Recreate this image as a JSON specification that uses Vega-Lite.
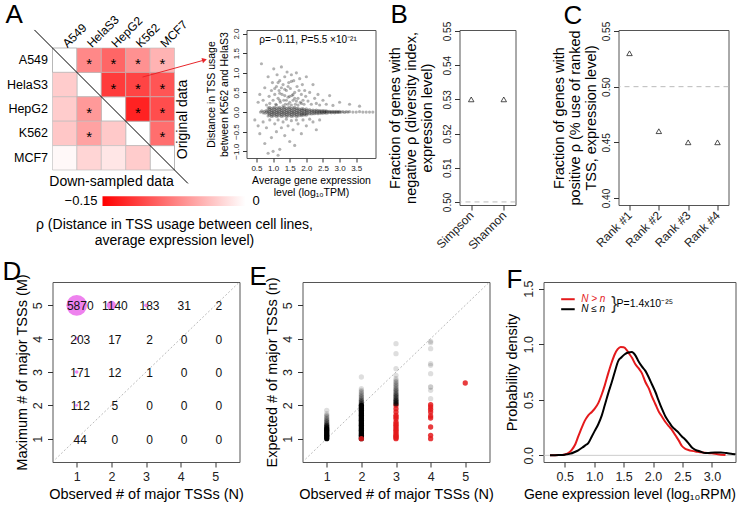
{
"$schema":"https://vega.github.io/schema/vega-lite/v6.json",
"padding":{"left":1.5,"top":1,"right":0,"bottom":0},
"config":{
 "font":"Liberation Sans",
 "view":{"stroke":"#555","strokeWidth":1},
 "axis":{"grid":false,"domain":false,"tickColor":"#333","tickSize":5,"labelColor":"#222","titleColor":"#000","titleFontWeight":"normal","titleFontSize":14.5,"labelFontSize":12,"labelOverlap":false},
 "title":{"fontSize":26,"fontWeight":"normal","anchor":"start","frame":"group","baseline":"top","offset":0,"color":"#000"}
},
"spacing":6,
"datasets":{
 "heat":[
  {"row":"A549","col":"A549","rho":null,"star":""},
  {"row":"A549","col":"HelaS3","rho":-0.07,"star":"*"},
  {"row":"A549","col":"HepG2","rho":-0.09,"star":"*"},
  {"row":"A549","col":"K562","rho":-0.065,"star":"*"},
  {"row":"A549","col":"MCF7","rho":-0.045,"star":"*"},
  {"row":"HelaS3","col":"A549","rho":-0.03,"star":""},
  {"row":"HelaS3","col":"HelaS3","rho":null,"star":""},
  {"row":"HelaS3","col":"HepG2","rho":-0.115,"star":"*"},
  {"row":"HelaS3","col":"K562","rho":-0.11,"star":"*"},
  {"row":"HelaS3","col":"MCF7","rho":-0.1,"star":"*"},
  {"row":"HepG2","col":"A549","rho":-0.03,"star":""},
  {"row":"HepG2","col":"HelaS3","rho":-0.06,"star":"*"},
  {"row":"HepG2","col":"HepG2","rho":null,"star":""},
  {"row":"HepG2","col":"K562","rho":-0.13,"star":"*"},
  {"row":"HepG2","col":"MCF7","rho":-0.105,"star":"*"},
  {"row":"K562","col":"A549","rho":-0.033,"star":""},
  {"row":"K562","col":"HelaS3","rho":-0.055,"star":"*"},
  {"row":"K562","col":"HepG2","rho":-0.032,"star":""},
  {"row":"K562","col":"K562","rho":null,"star":""},
  {"row":"K562","col":"MCF7","rho":-0.085,"star":"*"},
  {"row":"MCF7","col":"A549","rho":-0.004,"star":""},
  {"row":"MCF7","col":"HelaS3","rho":-0.025,"star":""},
  {"row":"MCF7","col":"HepG2","rho":-0.015,"star":""},
  {"row":"MCF7","col":"K562","rho":-0.03,"star":""},
  {"row":"MCF7","col":"MCF7","rho":null,"star":""}
 ],
 "scatterA":[
  {"expr":0.62,"dist":0},{"expr":0.66,"dist":0.03},{"expr":0.7,"dist":-0.02},{"expr":0.73,"dist":0.02},{"expr":0.76,"dist":-0.03},{"expr":0.79,"dist":0.04},{"expr":0.8,"dist":0},
  {"expr":0.85,"dist":-0.1},{"expr":0.85,"dist":-0.04},{"expr":0.85,"dist":0},{"expr":0.85,"dist":0.05},{"expr":0.85,"dist":0.11},
  {"expr":0.9,"dist":-0.08},{"expr":0.9,"dist":-0.03},{"expr":0.9,"dist":0.02},{"expr":0.9,"dist":0.07},{"expr":0.9,"dist":0.12},
  {"expr":0.95,"dist":-0.11},{"expr":0.95,"dist":-0.06},{"expr":0.95,"dist":-0.01},{"expr":0.95,"dist":0.04},{"expr":0.95,"dist":0.09},
  {"expr":1.0,"dist":-0.1},{"expr":1.0,"dist":-0.04},{"expr":1.0,"dist":0},{"expr":1.0,"dist":0.05},{"expr":1.0,"dist":0.11},
  {"expr":1.05,"dist":-0.08},{"expr":1.05,"dist":-0.03},{"expr":1.05,"dist":0.02},{"expr":1.05,"dist":0.07},{"expr":1.05,"dist":0.12},
  {"expr":1.1,"dist":-0.11},{"expr":1.1,"dist":-0.06},{"expr":1.1,"dist":-0.01},{"expr":1.1,"dist":0.04},{"expr":1.1,"dist":0.09},
  {"expr":1.15,"dist":-0.1},{"expr":1.15,"dist":-0.04},{"expr":1.15,"dist":0},{"expr":1.15,"dist":0.05},{"expr":1.15,"dist":0.11},
  {"expr":1.2,"dist":-0.08},{"expr":1.2,"dist":-0.03},{"expr":1.2,"dist":0.02},{"expr":1.2,"dist":0.07},{"expr":1.2,"dist":0.12},
  {"expr":1.25,"dist":-0.11},{"expr":1.25,"dist":-0.06},{"expr":1.25,"dist":-0.01},{"expr":1.25,"dist":0.04},{"expr":1.25,"dist":0.09},
  {"expr":1.3,"dist":-0.1},{"expr":1.3,"dist":-0.04},{"expr":1.3,"dist":0},{"expr":1.3,"dist":0.05},{"expr":1.3,"dist":0.11},
  {"expr":1.35,"dist":-0.08},{"expr":1.35,"dist":-0.03},{"expr":1.35,"dist":0.02},{"expr":1.35,"dist":0.07},{"expr":1.35,"dist":0.12},
  {"expr":1.4,"dist":-0.11},{"expr":1.4,"dist":-0.06},{"expr":1.4,"dist":-0.01},{"expr":1.4,"dist":0.04},{"expr":1.4,"dist":0.09},
  {"expr":1.45,"dist":-0.1},{"expr":1.45,"dist":-0.04},{"expr":1.45,"dist":0},{"expr":1.45,"dist":0.05},{"expr":1.45,"dist":0.11},
  {"expr":1.5,"dist":-0.08},{"expr":1.5,"dist":-0.03},{"expr":1.5,"dist":0.02},{"expr":1.5,"dist":0.07},{"expr":1.5,"dist":0.12},
  {"expr":1.55,"dist":-0.11},{"expr":1.55,"dist":-0.06},{"expr":1.55,"dist":-0.01},{"expr":1.55,"dist":0.04},{"expr":1.55,"dist":0.09},
  {"expr":1.6,"dist":-0.1},{"expr":1.6,"dist":-0.04},{"expr":1.6,"dist":0},{"expr":1.6,"dist":0.05},{"expr":1.6,"dist":0.11},
  {"expr":1.65,"dist":-0.08},{"expr":1.65,"dist":-0.03},{"expr":1.65,"dist":0.02},{"expr":1.65,"dist":0.07},{"expr":1.65,"dist":0.12},
  {"expr":1.7,"dist":-0.11},{"expr":1.7,"dist":-0.06},{"expr":1.7,"dist":-0.01},{"expr":1.7,"dist":0.04},{"expr":1.7,"dist":0.09},
  {"expr":1.75,"dist":-0.1},{"expr":1.75,"dist":-0.04},{"expr":1.75,"dist":0},{"expr":1.75,"dist":0.05},{"expr":1.75,"dist":0.1},
  {"expr":1.8,"dist":-0.08},{"expr":1.8,"dist":-0.03},{"expr":1.8,"dist":0.02},{"expr":1.8,"dist":0.07},
  {"expr":1.85,"dist":-0.09},{"expr":1.85,"dist":-0.05},{"expr":1.85,"dist":-0.01},{"expr":1.85,"dist":0.04},{"expr":1.85,"dist":0.08},
  {"expr":1.9,"dist":-0.08},{"expr":1.9,"dist":-0.04},{"expr":1.9,"dist":0},{"expr":1.9,"dist":0.05},{"expr":1.9,"dist":0.09},
  {"expr":1.95,"dist":-0.07},{"expr":1.95,"dist":-0.03},{"expr":1.95,"dist":0.02},{"expr":1.95,"dist":0.06},
  {"expr":2.0,"dist":-0.08},{"expr":2.0,"dist":-0.04},{"expr":2.0,"dist":0},{"expr":2.0,"dist":0.04},{"expr":2.0,"dist":0.08},
  {"expr":2.05,"dist":-0.05},{"expr":2.05,"dist":0},{"expr":2.05,"dist":0.05},
  {"expr":2.1,"dist":-0.04},{"expr":2.1,"dist":0.01},{"expr":2.1,"dist":0.06},
  {"expr":2.15,"dist":-0.05},{"expr":2.15,"dist":0},{"expr":2.15,"dist":0.04},
  {"expr":2.2,"dist":-0.04},{"expr":2.2,"dist":0.01},{"expr":2.2,"dist":0.05},
  {"expr":2.25,"dist":-0.04},{"expr":2.25,"dist":0},{"expr":2.25,"dist":0.04},
  {"expr":2.3,"dist":-0.03},{"expr":2.3,"dist":0.01},{"expr":2.3,"dist":0.05},
  {"expr":2.35,"dist":-0.04},{"expr":2.35,"dist":0},{"expr":2.35,"dist":0.04},
  {"expr":2.4,"dist":-0.03},{"expr":2.4,"dist":0.01},{"expr":2.4,"dist":0.04},
  {"expr":2.45,"dist":-0.03},{"expr":2.45,"dist":0},{"expr":2.45,"dist":0.03},
  {"expr":2.5,"dist":-0.03},{"expr":2.5,"dist":0.01},{"expr":2.5,"dist":0.04},
  {"expr":2.55,"dist":-0.02},{"expr":2.55,"dist":0},{"expr":2.55,"dist":0.03},
  {"expr":2.6,"dist":-0.03},{"expr":2.6,"dist":0.01},{"expr":2.6,"dist":0.03},
  {"expr":2.65,"dist":-0.02},{"expr":2.65,"dist":0.02},{"expr":2.7,"dist":-0.01},{"expr":2.7,"dist":0.02},
  {"expr":2.75,"dist":-0.02},{"expr":2.75,"dist":0.01},{"expr":2.8,"dist":-0.01},{"expr":2.8,"dist":0.02},
  {"expr":2.85,"dist":-0.02},{"expr":2.85,"dist":0.01},{"expr":2.9,"dist":-0.01},{"expr":2.9,"dist":0.02},
  {"expr":2.95,"dist":-0.01},{"expr":2.95,"dist":0.01},{"expr":3.0,"dist":-0.01},{"expr":3.0,"dist":0.02},
  {"expr":3.05,"dist":0},{"expr":3.1,"dist":0.01},{"expr":3.15,"dist":-0.01},{"expr":3.2,"dist":0.01},{"expr":3.25,"dist":0},{"expr":3.3,"dist":0.01},
  {"expr":3.4,"dist":0},{"expr":3.5,"dist":0},{"expr":3.6,"dist":0.01},{"expr":3.7,"dist":0},{"expr":3.8,"dist":0},{"expr":3.9,"dist":0},{"expr":4.0,"dist":0},
  {"expr":0.55,"dist":0.25},{"expr":0.6,"dist":0.45},{"expr":0.65,"dist":1.23},{"expr":0.7,"dist":0.3},{"expr":0.75,"dist":0.62},{"expr":0.8,"dist":0.18},{"expr":0.85,"dist":0.9},{"expr":0.88,"dist":0.4},{"expr":0.9,"dist":0.22},{"expr":0.95,"dist":0.55},
  {"expr":0.98,"dist":0.75},{"expr":1.0,"dist":0.3},{"expr":1.02,"dist":1.1},{"expr":1.05,"dist":0.45},{"expr":1.08,"dist":0.2},{"expr":1.1,"dist":0.65},{"expr":1.12,"dist":0.95},{"expr":1.15,"dist":0.35},{"expr":1.18,"dist":0.55},{"expr":1.2,"dist":0.8},
  {"expr":1.22,"dist":0.25},{"expr":1.25,"dist":1.15},{"expr":1.27,"dist":0.45},{"expr":1.3,"dist":0.7},{"expr":1.32,"dist":0.3},{"expr":1.35,"dist":0.9},{"expr":1.37,"dist":0.2},{"expr":1.4,"dist":0.55},{"expr":1.42,"dist":1.02},{"expr":1.45,"dist":0.38},
  {"expr":1.47,"dist":0.75},{"expr":1.5,"dist":0.25},{"expr":1.52,"dist":0.6},{"expr":1.55,"dist":0.95},{"expr":1.57,"dist":0.42},{"expr":1.6,"dist":0.3},{"expr":1.62,"dist":0.8},{"expr":1.65,"dist":0.5},{"expr":1.67,"dist":0.2},{"expr":1.7,"dist":1.0},
  {"expr":1.72,"dist":0.65},{"expr":1.75,"dist":0.35},{"expr":1.78,"dist":0.55},{"expr":1.8,"dist":0.85},{"expr":1.82,"dist":0.25},{"expr":1.85,"dist":0.45},{"expr":1.88,"dist":0.7},{"expr":1.9,"dist":0.3},{"expr":1.93,"dist":0.2},{"expr":1.95,"dist":0.55},
  {"expr":1.98,"dist":0.4},{"expr":2.0,"dist":0.9},{"expr":2.05,"dist":0.28},{"expr":2.1,"dist":0.5},{"expr":2.15,"dist":0.2},{"expr":2.2,"dist":0.7},{"expr":2.25,"dist":0.35},{"expr":2.3,"dist":0.22},{"expr":2.35,"dist":0.45},{"expr":2.4,"dist":0.18},
  {"expr":2.5,"dist":0.3},{"expr":2.6,"dist":0.2},{"expr":2.7,"dist":0.42},{"expr":2.8,"dist":0.17},{"expr":3.0,"dist":0.25},{"expr":3.3,"dist":0.2},{"expr":3.6,"dist":0.15},
  {"expr":1.1,"dist":0.18},{"expr":1.2,"dist":0.3},{"expr":1.3,"dist":0.16},{"expr":1.35,"dist":0.42},{"expr":1.45,"dist":0.2},{"expr":1.55,"dist":0.18},{"expr":1.6,"dist":0.45},{"expr":1.7,"dist":0.28},{"expr":1.75,"dist":0.18},{"expr":1.85,"dist":0.22},
  {"expr":1.2,"dist":0.48},{"expr":1.4,"dist":0.3},{"expr":1.5,"dist":0.4},{"expr":1.65,"dist":0.35},{"expr":1.25,"dist":0.62},{"expr":1.45,"dist":0.65},{"expr":1.15,"dist":0.75},{"expr":1.55,"dist":0.78},{"expr":1.35,"dist":0.58},{"expr":1.05,"dist":0.6},
  {"expr":0.45,"dist":-0.2},{"expr":0.55,"dist":-0.35},{"expr":0.6,"dist":-0.55},{"expr":0.7,"dist":-0.25},{"expr":0.75,"dist":-0.8},{"expr":0.8,"dist":-0.4},{"expr":0.9,"dist":-0.2},{"expr":0.95,"dist":-0.65},{"expr":1.0,"dist":-1.0},{"expr":1.05,"dist":-0.3},
  {"expr":1.1,"dist":-0.5},{"expr":1.15,"dist":-0.2},{"expr":1.2,"dist":-0.95},{"expr":1.25,"dist":-0.4},{"expr":1.3,"dist":-0.25},{"expr":1.35,"dist":-0.6},{"expr":1.4,"dist":-0.18},{"expr":1.45,"dist":-0.35},{"expr":1.5,"dist":-0.75},{"expr":1.55,"dist":-0.22},
  {"expr":1.6,"dist":-0.45},{"expr":1.7,"dist":-0.2},{"expr":1.75,"dist":-0.3},{"expr":1.85,"dist":-0.55},{"expr":1.9,"dist":-0.2},{"expr":2.0,"dist":-0.35},{"expr":2.1,"dist":-0.18},{"expr":2.2,"dist":-0.25},{"expr":2.4,"dist":-0.2},{"expr":0.85,"dist":-1.05},
  {"expr":1.15,"dist":-1.1},{"expr":1.65,"dist":-0.85},{"expr":2.3,"dist":-0.45}
 ],
 "countsD":[
  {"N":1,"M":5,"count":5870},{"N":2,"M":5,"count":1140},{"N":3,"M":5,"count":183},{"N":4,"M":5,"count":31},{"N":5,"M":5,"count":2},
  {"N":1,"M":4,"count":203},{"N":2,"M":4,"count":17},{"N":3,"M":4,"count":2},{"N":4,"M":4,"count":0},{"N":5,"M":4,"count":0},
  {"N":1,"M":3,"count":171},{"N":2,"M":3,"count":12},{"N":3,"M":3,"count":1},{"N":4,"M":3,"count":0},{"N":5,"M":3,"count":0},
  {"N":1,"M":2,"count":112},{"N":2,"M":2,"count":5},{"N":3,"M":2,"count":0},{"N":4,"M":2,"count":0},{"N":5,"M":2,"count":0},
  {"N":1,"M":1,"count":44},{"N":2,"M":1,"count":0},{"N":3,"M":1,"count":0},{"N":4,"M":1,"count":0},{"N":5,"M":1,"count":0}
 ],
 "pointsE":[
  {"N":1,"n":1.0,"sig":false,"k":25},{"N":1,"n":1.05,"sig":false,"k":25},{"N":1,"n":1.1,"sig":false,"k":22},{"N":1,"n":1.15,"sig":false,"k":20},{"N":1,"n":1.2,"sig":false,"k":16},{"N":1,"n":1.25,"sig":false,"k":14},{"N":1,"n":1.3,"sig":false,"k":12},{"N":1,"n":1.35,"sig":false,"k":9},{"N":1,"n":1.4,"sig":false,"k":7},{"N":1,"n":1.45,"sig":false,"k":5},{"N":1,"n":1.5,"sig":false,"k":4},{"N":1,"n":1.55,"sig":false,"k":3},{"N":1,"n":1.6,"sig":false,"k":3},{"N":1,"n":1.65,"sig":false,"k":2},{"N":1,"n":1.7,"sig":false,"k":2},{"N":1,"n":1.75,"sig":false,"k":1},{"N":1,"n":1.85,"sig":false,"k":1},
  {"N":2,"n":1.0,"sig":false,"k":25},{"N":2,"n":1.05,"sig":false,"k":25},{"N":2,"n":1.1,"sig":false,"k":25},{"N":2,"n":1.15,"sig":false,"k":25},{"N":2,"n":1.2,"sig":false,"k":25},{"N":2,"n":1.25,"sig":false,"k":25},{"N":2,"n":1.3,"sig":false,"k":25},{"N":2,"n":1.35,"sig":false,"k":25},{"N":2,"n":1.4,"sig":false,"k":25},{"N":2,"n":1.45,"sig":false,"k":25},{"N":2,"n":1.5,"sig":false,"k":25},
  {"N":2,"n":1.55,"sig":false,"k":20},{"N":2,"n":1.6,"sig":false,"k":20},{"N":2,"n":1.65,"sig":false,"k":20},{"N":2,"n":1.7,"sig":false,"k":20},{"N":2,"n":1.75,"sig":false,"k":20},{"N":2,"n":1.8,"sig":false,"k":20},{"N":2,"n":1.85,"sig":false,"k":15},{"N":2,"n":1.9,"sig":false,"k":15},{"N":2,"n":1.95,"sig":false,"k":15},{"N":2,"n":2.0,"sig":false,"k":15},
  {"N":2,"n":2.05,"sig":false,"k":6},{"N":2,"n":2.1,"sig":false,"k":5},{"N":2,"n":2.15,"sig":false,"k":4},{"N":2,"n":2.2,"sig":false,"k":3},{"N":2,"n":2.25,"sig":false,"k":3},{"N":2,"n":2.3,"sig":false,"k":2},{"N":2,"n":2.35,"sig":false,"k":2},{"N":2,"n":2.4,"sig":false,"k":2},{"N":2,"n":2.45,"sig":false,"k":1},{"N":2,"n":2.5,"sig":false,"k":1},{"N":2,"n":2.85,"sig":false,"k":1},
  {"N":2,"n":1.0,"sig":true,"k":1},
  {"N":3,"n":1.0,"sig":true,"k":1},{"N":3,"n":1.03,"sig":true,"k":1},{"N":3,"n":1.07,"sig":true,"k":1},{"N":3,"n":1.1,"sig":true,"k":1},{"N":3,"n":1.15,"sig":true,"k":1},{"N":3,"n":1.2,"sig":true,"k":1},{"N":3,"n":1.25,"sig":true,"k":1},{"N":3,"n":1.3,"sig":true,"k":1},{"N":3,"n":1.35,"sig":true,"k":1},{"N":3,"n":1.4,"sig":true,"k":1},{"N":3,"n":1.45,"sig":true,"k":1},{"N":3,"n":1.5,"sig":true,"k":1},{"N":3,"n":1.6,"sig":true,"k":1},{"N":3,"n":1.65,"sig":true,"k":1},{"N":3,"n":1.7,"sig":true,"k":1},{"N":3,"n":1.8,"sig":true,"k":1},{"N":3,"n":1.9,"sig":true,"k":1},{"N":3,"n":2.0,"sig":true,"k":1},
  {"N":3,"n":2.05,"sig":false,"k":8},{"N":3,"n":2.1,"sig":false,"k":7},{"N":3,"n":2.15,"sig":false,"k":6},{"N":3,"n":2.2,"sig":false,"k":5},{"N":3,"n":2.25,"sig":false,"k":5},{"N":3,"n":2.3,"sig":false,"k":4},{"N":3,"n":2.35,"sig":false,"k":4},{"N":3,"n":2.4,"sig":false,"k":3},{"N":3,"n":2.45,"sig":false,"k":3},{"N":3,"n":2.5,"sig":false,"k":3},{"N":3,"n":2.55,"sig":false,"k":2},{"N":3,"n":2.6,"sig":false,"k":2},{"N":3,"n":2.65,"sig":false,"k":2},{"N":3,"n":2.7,"sig":false,"k":2},{"N":3,"n":2.75,"sig":false,"k":1},{"N":3,"n":2.8,"sig":false,"k":1},{"N":3,"n":2.9,"sig":false,"k":1},{"N":3,"n":3.1,"sig":false,"k":1},{"N":3,"n":3.55,"sig":false,"k":1},{"N":3,"n":3.85,"sig":false,"k":1},
  {"N":4,"n":1.0,"sig":true,"k":1},{"N":4,"n":1.1,"sig":true,"k":1},{"N":4,"n":1.35,"sig":true,"k":1},{"N":4,"n":1.62,"sig":true,"k":1},{"N":4,"n":1.68,"sig":true,"k":1},{"N":4,"n":1.8,"sig":true,"k":1},{"N":4,"n":1.88,"sig":true,"k":1},{"N":4,"n":1.95,"sig":true,"k":1},{"N":4,"n":2.02,"sig":true,"k":1},
  {"N":4,"n":2.2,"sig":false,"k":1},{"N":4,"n":2.45,"sig":false,"k":1},{"N":4,"n":2.55,"sig":false,"k":2},{"N":4,"n":2.95,"sig":false,"k":1},{"N":4,"n":3.2,"sig":false,"k":1},{"N":4,"n":3.25,"sig":false,"k":1},{"N":4,"n":3.7,"sig":false,"k":1},{"N":4,"n":3.88,"sig":false,"k":1},{"N":4,"n":3.92,"sig":false,"k":1},
  {"N":5,"n":2.67,"sig":true,"k":1}
 ],
 "densF":[
  {"expr":0.25,"dens":0,"group":"N > n"},{"expr":0.4,"dens":0.002,"group":"N > n"},{"expr":0.5,"dens":0.008,"group":"N > n"},{"expr":0.56,"dens":0.02,"group":"N > n"},{"expr":0.62,"dens":0.05,"group":"N > n"},{"expr":0.68,"dens":0.1,"group":"N > n"},{"expr":0.73,"dens":0.17,"group":"N > n"},{"expr":0.79,"dens":0.25,"group":"N > n"},{"expr":0.84,"dens":0.31,"group":"N > n"},{"expr":0.9,"dens":0.36,"group":"N > n"},{"expr":0.96,"dens":0.39,"group":"N > n"},{"expr":1.01,"dens":0.42,"group":"N > n"},{"expr":1.07,"dens":0.47,"group":"N > n"},{"expr":1.13,"dens":0.55,"group":"N > n"},{"expr":1.18,"dens":0.63,"group":"N > n"},{"expr":1.24,"dens":0.74,"group":"N > n"},{"expr":1.3,"dens":0.84,"group":"N > n"},{"expr":1.35,"dens":0.91,"group":"N > n"},{"expr":1.4,"dens":0.955,"group":"N > n"},{"expr":1.45,"dens":0.975,"group":"N > n"},{"expr":1.5,"dens":0.972,"group":"N > n"},{"expr":1.55,"dens":0.95,"group":"N > n"},{"expr":1.6,"dens":0.91,"group":"N > n"},{"expr":1.64,"dens":0.88,"group":"N > n"},{"expr":1.7,"dens":0.82,"group":"N > n"},{"expr":1.76,"dens":0.78,"group":"N > n"},{"expr":1.81,"dens":0.74,"group":"N > n"},{"expr":1.87,"dens":0.66,"group":"N > n"},{"expr":1.93,"dens":0.6,"group":"N > n"},{"expr":1.98,"dens":0.53,"group":"N > n"},{"expr":2.04,"dens":0.46,"group":"N > n"},{"expr":2.1,"dens":0.39,"group":"N > n"},{"expr":2.15,"dens":0.35,"group":"N > n"},{"expr":2.21,"dens":0.3,"group":"N > n"},{"expr":2.27,"dens":0.26,"group":"N > n"},{"expr":2.32,"dens":0.23,"group":"N > n"},{"expr":2.38,"dens":0.18,"group":"N > n"},{"expr":2.44,"dens":0.13,"group":"N > n"},{"expr":2.49,"dens":0.084,"group":"N > n"},{"expr":2.55,"dens":0.058,"group":"N > n"},{"expr":2.6,"dens":0.048,"group":"N > n"},{"expr":2.66,"dens":0.04,"group":"N > n"},{"expr":2.75,"dens":0.032,"group":"N > n"},{"expr":2.85,"dens":0.025,"group":"N > n"},{"expr":3.0,"dens":0.018,"group":"N > n"},{"expr":3.1,"dens":0.01,"group":"N > n"},{"expr":3.23,"dens":0.002,"group":"N > n"},
  {"expr":0.25,"dens":0,"group":"N ≤ n"},{"expr":0.4,"dens":0.003,"group":"N ≤ n"},{"expr":0.5,"dens":0.006,"group":"N ≤ n"},{"expr":0.6,"dens":0.015,"group":"N ≤ n"},{"expr":0.67,"dens":0.03,"group":"N ≤ n"},{"expr":0.73,"dens":0.045,"group":"N ≤ n"},{"expr":0.8,"dens":0.07,"group":"N ≤ n"},{"expr":0.85,"dens":0.09,"group":"N ≤ n"},{"expr":0.9,"dens":0.11,"group":"N ≤ n"},{"expr":0.96,"dens":0.17,"group":"N ≤ n"},{"expr":1.01,"dens":0.22,"group":"N ≤ n"},{"expr":1.07,"dens":0.28,"group":"N ≤ n"},{"expr":1.13,"dens":0.36,"group":"N ≤ n"},{"expr":1.18,"dens":0.45,"group":"N ≤ n"},{"expr":1.24,"dens":0.56,"group":"N ≤ n"},{"expr":1.3,"dens":0.66,"group":"N ≤ n"},{"expr":1.35,"dens":0.75,"group":"N ≤ n"},{"expr":1.41,"dens":0.85,"group":"N ≤ n"},{"expr":1.46,"dens":0.88,"group":"N ≤ n"},{"expr":1.52,"dens":0.91,"group":"N ≤ n"},{"expr":1.58,"dens":0.925,"group":"N ≤ n"},{"expr":1.64,"dens":0.93,"group":"N ≤ n"},{"expr":1.7,"dens":0.9,"group":"N ≤ n"},{"expr":1.75,"dens":0.85,"group":"N ≤ n"},{"expr":1.81,"dens":0.8,"group":"N ≤ n"},{"expr":1.87,"dens":0.76,"group":"N ≤ n"},{"expr":1.92,"dens":0.71,"group":"N ≤ n"},{"expr":1.98,"dens":0.64,"group":"N ≤ n"},{"expr":2.04,"dens":0.57,"group":"N ≤ n"},{"expr":2.09,"dens":0.5,"group":"N ≤ n"},{"expr":2.15,"dens":0.42,"group":"N ≤ n"},{"expr":2.21,"dens":0.35,"group":"N ≤ n"},{"expr":2.27,"dens":0.3,"group":"N ≤ n"},{"expr":2.32,"dens":0.26,"group":"N ≤ n"},{"expr":2.38,"dens":0.23,"group":"N ≤ n"},{"expr":2.44,"dens":0.2,"group":"N ≤ n"},{"expr":2.49,"dens":0.17,"group":"N ≤ n"},{"expr":2.55,"dens":0.14,"group":"N ≤ n"},{"expr":2.6,"dens":0.11,"group":"N ≤ n"},{"expr":2.66,"dens":0.07,"group":"N ≤ n"},{"expr":2.72,"dens":0.05,"group":"N ≤ n"},{"expr":2.8,"dens":0.035,"group":"N ≤ n"},{"expr":2.89,"dens":0.02,"group":"N ≤ n"},{"expr":2.95,"dens":0.022,"group":"N ≤ n"},{"expr":3.05,"dens":0.025,"group":"N ≤ n"},{"expr":3.15,"dens":0.026,"group":"N ≤ n"},{"expr":3.25,"dens":0.02,"group":"N ≤ n"},{"expr":3.35,"dens":0.012,"group":"N ≤ n"},{"expr":3.4,"dens":0.01,"group":"N ≤ n"}
 ]
},
"vconcat":[
 {
 "bounds":"flush","spacing":0,
 "hconcat":[
 {
  "width":122,"height":140,
  "view":{"stroke":null},
  "title":{"text":"A","dx":-47,"dy":19},
  "layer":[
   {
    "data":{"name":"heat"},
    "encoding":{
     "x":{"field":"col","type":"nominal","sort":["A549","HelaS3","HepG2","K562","MCF7"],"scale":{"domain":["A549","HelaS3","HepG2","K562","MCF7"],"paddingInner":0,"paddingOuter":0},"axis":{"orient":"top","offset":-18,"labelAngle":-45,"labelAlign":"left","labelBaseline":"middle","ticks":false,"domain":false,"title":null,"labelFontSize":12,"labelPadding":3,"labelColor":"#000"}},
     "y":{"field":"row","type":"nominal","sort":["A549","HelaS3","HepG2","K562","MCF7"],"scale":{"domain":["A549","HelaS3","HepG2","K562","MCF7"],"paddingInner":0,"paddingOuter":0.3689,"align":1},"axis":{"ticks":false,"domain":false,"title":null,"labelFontSize":12.5,"labelPadding":5,"labelColor":"#000"}}
    },
    "layer":[
     {"transform":[{"filter":"datum.rho == null"}],"mark":{"type":"rect","fill":"#ffffff","stroke":"#888","strokeWidth":0.6}},
     {"transform":[{"filter":"datum.rho != null"}],"mark":{"type":"rect","stroke":"#bbb","strokeWidth":0.6},"encoding":{"color":{"field":"rho","type":"quantitative","scale":{"domain":[-0.15,0],"range":["#ff0000","#ffffff"],"interpolate":"rgb"},"legend":null}}},
     {"transform":[{"filter":"datum.star == '*'"}],"mark":{"type":"text","fontSize":15,"baseline":"middle","dy":4,"color":"#000"},"encoding":{"text":{"field":"star"}}}
    ]
   },
   {
    "data":{"values":[{}]},
    "layer":[
     {"mark":{"type":"rule","color":"#000","strokeWidth":1},"encoding":{"x":{"datum":-0.74,"type":"quantitative","scale":{"domain":[0,5],"nice":false,"zero":false},"axis":null},"y":{"datum":-0.74,"type":"quantitative","scale":{"domain":[-0.738,5],"nice":false,"zero":false,"reverse":true},"axis":null},"x2":{"datum":5.55},"y2":{"datum":5.55}}},
     {"mark":{"type":"rule","color":"#e8262b","strokeWidth":1},"encoding":{"x":{"datum":3.69,"type":"quantitative","scale":{"domain":[0,5],"nice":false,"zero":false},"axis":null},"y":{"datum":1.19,"type":"quantitative","scale":{"domain":[-0.738,5],"nice":false,"zero":false,"reverse":true},"axis":null},"x2":{"datum":6.2},"y2":{"datum":0.5}}},
     {"mark":{"type":"point","shape":"triangle-right","filled":true,"color":"#e8262b","size":30,"angle":-15.5,"opacity":1},"encoding":{"x":{"datum":6.23,"type":"quantitative","scale":{"domain":[0,5],"nice":false,"zero":false},"axis":null},"y":{"datum":0.49,"type":"quantitative","scale":{"domain":[-0.738,5],"nice":false,"zero":false,"reverse":true},"axis":null}}},
     {"mark":{"type":"text","text":"Original data","angle":270,"fontSize":14,"align":"center","baseline":"middle","color":"#000"},"encoding":{"x":{"datum":5.33,"type":"quantitative","scale":{"domain":[0,5],"nice":false,"zero":false},"axis":null},"y":{"datum":2.93,"type":"quantitative","scale":{"domain":[-0.738,5],"nice":false,"zero":false,"reverse":true},"axis":null}}},
     {"mark":{"type":"text","text":"Down-sampled data","fontSize":14,"align":"center","baseline":"middle","color":"#000"},"encoding":{"x":{"datum":2.42,"type":"quantitative","scale":{"domain":[0,5],"nice":false,"zero":false},"axis":null},"y":{"datum":5.49,"type":"quantitative","scale":{"domain":[-0.738,5],"nice":false,"zero":false,"reverse":true},"axis":null}}},
     {"mark":{"type":"text","text":["ρ (Distance in TSS usage between cell lines,","average expression level)"],"fontSize":14,"align":"center","baseline":"middle","lineHeight":16.6,"color":"#000"},"encoding":{"x":{"datum":5.0,"type":"quantitative","scale":{"domain":[0,5],"nice":false,"zero":false},"axis":null},"y":{"datum":7.25,"type":"quantitative","scale":{"domain":[-0.738,5],"nice":false,"zero":false,"reverse":true},"axis":null}}}
    ]
   },
   {
    "data":{"values":[{"lo":-0.15,"hi":0}]},
    "layer":[
     {"mark":{"type":"rect","fill":{"gradient":"linear","x1":0,"y1":0,"x2":1,"y2":0,"stops":[{"offset":0,"color":"#ff0000"},{"offset":1,"color":"#ffffff"}]}},"encoding":{"x":{"field":"lo","type":"quantitative","scale":{"domain":[-0.20245,-0.07447],"nice":false,"zero":false},"axis":null},"x2":{"field":"hi"},"y":{"datum":6.08,"type":"quantitative","scale":{"domain":[-0.738,5],"nice":false,"zero":false,"reverse":true},"axis":null},"y2":{"datum":6.48}}},
     {"mark":{"type":"text","text":"−0.15","fontSize":13,"align":"right","baseline":"middle","dx":-5,"color":"#000"},"encoding":{"x":{"field":"lo","type":"quantitative","scale":{"domain":[-0.20245,-0.07447],"nice":false,"zero":false},"axis":null},"y":{"datum":6.28,"type":"quantitative","scale":{"domain":[-0.738,5],"nice":false,"zero":false,"reverse":true},"axis":null}}},
     {"mark":{"type":"text","text":"0","fontSize":13,"align":"left","baseline":"middle","dx":7,"color":"#000"},"encoding":{"x":{"field":"hi","type":"quantitative","scale":{"domain":[-0.20245,-0.07447],"nice":false,"zero":false},"axis":null},"y":{"datum":6.28,"type":"quantitative","scale":{"domain":[-0.738,5],"nice":false,"zero":false,"reverse":true},"axis":null}}}
    ]
   }
  ],
  "resolve":{"scale":{"x":"independent","y":"independent"}}
 },
 {"width":72,"height":10,"data":{"values":[]},"mark":"point","view":{"stroke":null}},
 {
  "width":129,"height":128,
  "layer":[
   {"data":{"name":"scatterA"},"mark":{"type":"circle","size":10,"color":"#000","opacity":0.3},
    "encoding":{
     "x":{"field":"expr","type":"quantitative","scale":{"domain":[0.2,4.08],"nice":false,"zero":false},"axis":{"values":[0.5,1,1.5,2,2.5,3,3.5],"tickCount":20,"format":".1f","labelOverlap":false,"labelFontSize":8,"tickSize":4,"labelPadding":2,"title":["Average gene expression","level (log₁₀TPM)"],"titleFontSize":10.5,"titlePadding":3,"titleLineHeight":12}},
     "y":{"field":"dist","type":"quantitative","scale":{"domain":[-1.17,2.09],"nice":false,"zero":false},"axis":{"values":[-1,-0.5,0,0.5,1,1.5,2],"tickCount":20,"format":".1f","labelOverlap":false,"labelFontSize":8,"labelAngle":270,"labelAlign":"center","labelBaseline":"bottom","tickSize":4,"labelPadding":2,"title":["Distance in TSS usage","between K562 and HelaS3"],"titleFontSize":10.5,"titlePadding":3,"titleLineHeight":13}}
    }},
   {"data":{"values":[{}]},"mark":{"type":"text","text":"ρ=−0.11, P=5.5 ×10⁻²¹","fontSize":10,"color":"#000"},"encoding":{"x":{"datum":2.05,"type":"quantitative","scale":{"domain":[0.2,4.08],"nice":false,"zero":false}},"y":{"datum":1.83,"type":"quantitative","scale":{"domain":[-1.17,2.09],"nice":false,"zero":false}}}}
  ]
 },
 {"width":84,"height":10,"data":{"values":[]},"mark":"point","view":{"stroke":null}},
 {
  "width":56,"height":175,
  "title":{"text":"B","dx":-69,"dy":11},
  "layer":[
   {"data":{"values":[{}]},"mark":{"type":"rule","color":"#bbb","strokeDash":[5,4],"strokeWidth":1},"encoding":{"y":{"datum":0.5,"type":"quantitative","scale":{"domain":[0.4991,0.5503],"nice":false,"zero":false}}}},
   {"data":{"values":[{"index":"Simpson","frac":0.53},{"index":"Shannon","frac":0.53}]},"mark":{"type":"point","shape":"triangle-up","filled":false,"color":"#222","size":30,"strokeWidth":0.8,"opacity":1},
    "encoding":{
     "x":{"field":"index","type":"nominal","sort":null,"scale":{"type":"point","padding":0.36},"axis":{"labelAngle":-45,"labelAlign":"right","labelBaseline":"middle","labelFontSize":12,"labelPadding":3,"title":null}},
     "y":{"field":"frac","type":"quantitative","scale":{"domain":[0.4991,0.5503],"nice":false,"zero":false},"axis":{"values":[0.5,0.51,0.52,0.53,0.54,0.55],"tickCount":20,"format":".2f","labelOverlap":false,"labelAngle":270,"labelAlign":"center","labelBaseline":"bottom","labelFontSize":10,"labelPadding":2,"title":["Fraction of genes with","negative ρ (diversity index,","expression level)"],"titlePadding":8,"titleLineHeight":16}}
    }}
  ]
 },
 {"width":103,"height":10,"data":{"values":[]},"mark":"point","view":{"stroke":null}},
 {
  "width":110,"height":175,
  "title":{"text":"C","dx":-55,"dy":12},
  "layer":[
   {"data":{"values":[{}]},"mark":{"type":"rule","color":"#bbb","strokeDash":[5,4],"strokeWidth":1},"encoding":{"y":{"datum":0.5,"type":"quantitative","scale":{"domain":[0.3937,0.5509],"nice":false,"zero":false}}}},
   {"data":{"values":[{"rank":"Rank #1","frac":0.53},{"rank":"Rank #2","frac":0.46},{"rank":"Rank #3","frac":0.45},{"rank":"Rank #4","frac":0.45}]},"mark":{"type":"point","shape":"triangle-up","filled":false,"color":"#222","size":30,"strokeWidth":0.8,"opacity":1},
    "encoding":{
     "x":{"field":"rank","type":"nominal","sort":null,"scale":{"type":"point","padding":0.375},"axis":{"labelAngle":-45,"labelAlign":"right","labelBaseline":"middle","labelFontSize":12,"labelPadding":3,"title":null}},
     "y":{"field":"frac","type":"quantitative","scale":{"domain":[0.3937,0.5509],"nice":false,"zero":false},"axis":{"values":[0.4,0.45,0.5,0.55],"tickCount":20,"format":".2f","labelOverlap":false,"labelAngle":270,"labelAlign":"center","labelBaseline":"bottom","labelFontSize":10,"labelPadding":2,"title":["Fraction of genes with","positive ρ (% use of ranked","TSS, expression level)"],"titlePadding":3,"titleLineHeight":16}}
    }}
  ]
 }
 ]},
 {
 "bounds":"flush","spacing":0,
 "hconcat":[
 {
  "width":187,"height":180,
  "title":{"text":"D","dx":-50,"dy":15},
  "layer":[
   {"data":{"values":[{}]},"mark":{"type":"rule","strokeDash":[2,2],"color":"#aaa","strokeWidth":0.8},"encoding":{"x":{"datum":0.3,"type":"quantitative","scale":{"domain":[0.3,5.7],"nice":false,"zero":false}},"y":{"datum":0.3,"type":"quantitative","scale":{"domain":[0.3,5.7],"nice":false,"zero":false}},"x2":{"datum":5.7},"y2":{"datum":5.7}}},
   {"data":{"name":"countsD"},"mark":{"type":"circle","color":"violet","opacity":1},
    "encoding":{
     "x":{"field":"N","type":"quantitative","scale":{"domain":[0.3,5.7],"nice":false,"zero":false},"axis":{"values":[1,2,3,4,5],"tickCount":20,"format":"d","labelOverlap":false,"labelFontSize":12.5,"labelPadding":3,"title":"Observed # of major TSSs (N)","titlePadding":5}},
     "y":{"field":"M","type":"quantitative","scale":{"domain":[0.3,5.7],"nice":false,"zero":false},"axis":{"values":[1,2,3,4,5],"tickCount":20,"format":"d","labelOverlap":false,"labelFontSize":12.5,"labelAngle":270,"labelAlign":"center","labelBaseline":"bottom","labelPadding":3,"title":"Maximum # of major TSSs (M)","titlePadding":2}},
     "size":{"field":"count","type":"quantitative","scale":{"domain":[0,5870],"range":[0,430]},"legend":null}
    }},
   {"data":{"name":"countsD"},"mark":{"type":"text","fontSize":12,"dx":3.5,"dy":1,"color":"#111"},
    "encoding":{
     "x":{"field":"N","type":"quantitative","scale":{"domain":[0.3,5.7],"nice":false,"zero":false}},
     "y":{"field":"M","type":"quantitative","scale":{"domain":[0.3,5.7],"nice":false,"zero":false}},
     "text":{"field":"count","type":"quantitative","format":"d"}
    }}
  ]
 },
 {"width":63,"height":10,"data":{"values":[]},"mark":"point","view":{"stroke":null}},
 {
  "width":187,"height":180,
  "title":{"text":"E","dx":-53,"dy":17},
  "layer":[
   {"data":{"values":[{}]},"mark":{"type":"rule","strokeDash":[2,2],"color":"#aaa","strokeWidth":0.8},"encoding":{"x":{"datum":0.3,"type":"quantitative","scale":{"domain":[0.3,5.7],"nice":false,"zero":false}},"y":{"datum":0.3,"type":"quantitative","scale":{"domain":[0.3,5.7],"nice":false,"zero":false}},"x2":{"datum":5.7},"y2":{"datum":5.7}}},
   {"data":{"name":"pointsE"},"mark":{"type":"circle","size":28},
    "encoding":{
     "x":{"field":"N","type":"quantitative","scale":{"domain":[0.3,5.7],"nice":false,"zero":false},"axis":{"values":[1,2,3,4,5],"tickCount":20,"format":"d","labelOverlap":false,"labelFontSize":12.5,"labelPadding":3,"title":"Observed # of major TSSs (N)","titlePadding":5}},
     "y":{"field":"n","type":"quantitative","scale":{"domain":[0.3,5.7],"nice":false,"zero":false},"axis":{"values":[1,2,3,4,5],"tickCount":20,"format":"d","labelOverlap":false,"labelFontSize":12.5,"labelAngle":270,"labelAlign":"center","labelBaseline":"bottom","labelPadding":3,"title":"Expected # of major TSSs (n)","titlePadding":2}},
     "color":{"field":"sig","type":"nominal","scale":{"domain":[true,false],"range":["#e41a1c","#000000"]},"legend":null},
     "opacity":{"condition":{"test":"datum.sig","value":0.85},"field":"k","type":"quantitative","scale":{"domain":[1,12],"range":[0.13,1],"clamp":true},"legend":null}
    }}
  ]
 },
 {"width":54,"height":10,"data":{"values":[]},"mark":"point","view":{"stroke":null}},
 {
  "width":192,"height":180,
  "title":{"text":"F","dx":-37,"dy":17},
  "layer":[
   {"data":{"values":[{}]},"mark":{"type":"rule","color":"#ccc","strokeWidth":1},"encoding":{"y":{"datum":0,"type":"quantitative","scale":{"domain":[-0.06,1.56],"nice":false,"zero":false}}}},
   {"data":{"name":"densF"},"mark":{"type":"line","strokeWidth":2,"interpolate":"monotone"},
    "encoding":{
     "x":{"field":"expr","type":"quantitative","scale":{"domain":[0.14,3.4],"nice":false,"zero":false},"axis":{"values":[0.5,1,1.5,2,2.5,3],"tickCount":20,"format":".1f","labelOverlap":false,"labelFontSize":12.5,"labelPadding":3,"title":"Gene expression level (log₁₀RPM)","titleFontSize":14,"titleAnchor":"end","titlePadding":5}},
     "y":{"field":"dens","type":"quantitative","scale":{"domain":[-0.06,1.56],"nice":false,"zero":false},"axis":{"values":[0,0.5,1,1.5],"tickCount":20,"format":".1f","labelOverlap":false,"labelFontSize":12.5,"labelAngle":270,"labelAlign":"center","labelBaseline":"bottom","labelPadding":3,"title":"Probability density","titlePadding":3}},
     "color":{"field":"group","type":"nominal","scale":{"domain":["N > n","N ≤ n"],"range":["#e41a1c","#000000"]},"legend":null}
    }},
   {"data":{"values":[{}]},"mark":{"type":"rule","color":"#e41a1c","strokeWidth":2},"encoding":{"x":{"datum":0.44,"type":"quantitative","scale":{"domain":[0.14,3.4],"nice":false,"zero":false}},"x2":{"datum":0.67},"y":{"datum":1.405,"type":"quantitative","scale":{"domain":[-0.06,1.56],"nice":false,"zero":false}}}},
   {"data":{"values":[{}]},"mark":{"type":"rule","color":"#000","strokeWidth":2},"encoding":{"x":{"datum":0.44,"type":"quantitative","scale":{"domain":[0.14,3.4],"nice":false,"zero":false}},"x2":{"datum":0.67},"y":{"datum":1.315,"type":"quantitative","scale":{"domain":[-0.06,1.56],"nice":false,"zero":false}}}},
   {"data":{"values":[{}]},"mark":{"type":"text","text":"N > n","fontStyle":"italic","fontSize":10,"align":"left","baseline":"middle","color":"#e41a1c"},"encoding":{"x":{"datum":0.78,"type":"quantitative","scale":{"domain":[0.14,3.4],"nice":false,"zero":false}},"y":{"datum":1.405,"type":"quantitative","scale":{"domain":[-0.06,1.56],"nice":false,"zero":false}}}},
   {"data":{"values":[{}]},"mark":{"type":"text","text":"N ≤ n","fontStyle":"italic","fontSize":10,"align":"left","baseline":"middle","color":"#000"},"encoding":{"x":{"datum":0.78,"type":"quantitative","scale":{"domain":[0.14,3.4],"nice":false,"zero":false}},"y":{"datum":1.315,"type":"quantitative","scale":{"domain":[-0.06,1.56],"nice":false,"zero":false}}}},
   {"data":{"values":[{}]},"mark":{"type":"text","text":"}","fontSize":18,"align":"left","baseline":"middle","color":"#333"},"encoding":{"x":{"datum":1.29,"type":"quantitative","scale":{"domain":[0.14,3.4],"nice":false,"zero":false}},"y":{"datum":1.36,"type":"quantitative","scale":{"domain":[-0.06,1.56],"nice":false,"zero":false}}}},
   {"data":{"values":[{}]},"mark":{"type":"text","text":"P=1.4x10⁻²⁵","fontSize":10.5,"align":"left","baseline":"middle","color":"#000"},"encoding":{"x":{"datum":1.38,"type":"quantitative","scale":{"domain":[0.14,3.4],"nice":false,"zero":false}},"y":{"datum":1.36,"type":"quantitative","scale":{"domain":[-0.06,1.56],"nice":false,"zero":false}}}}
  ]
 }
 ]}
]
}
